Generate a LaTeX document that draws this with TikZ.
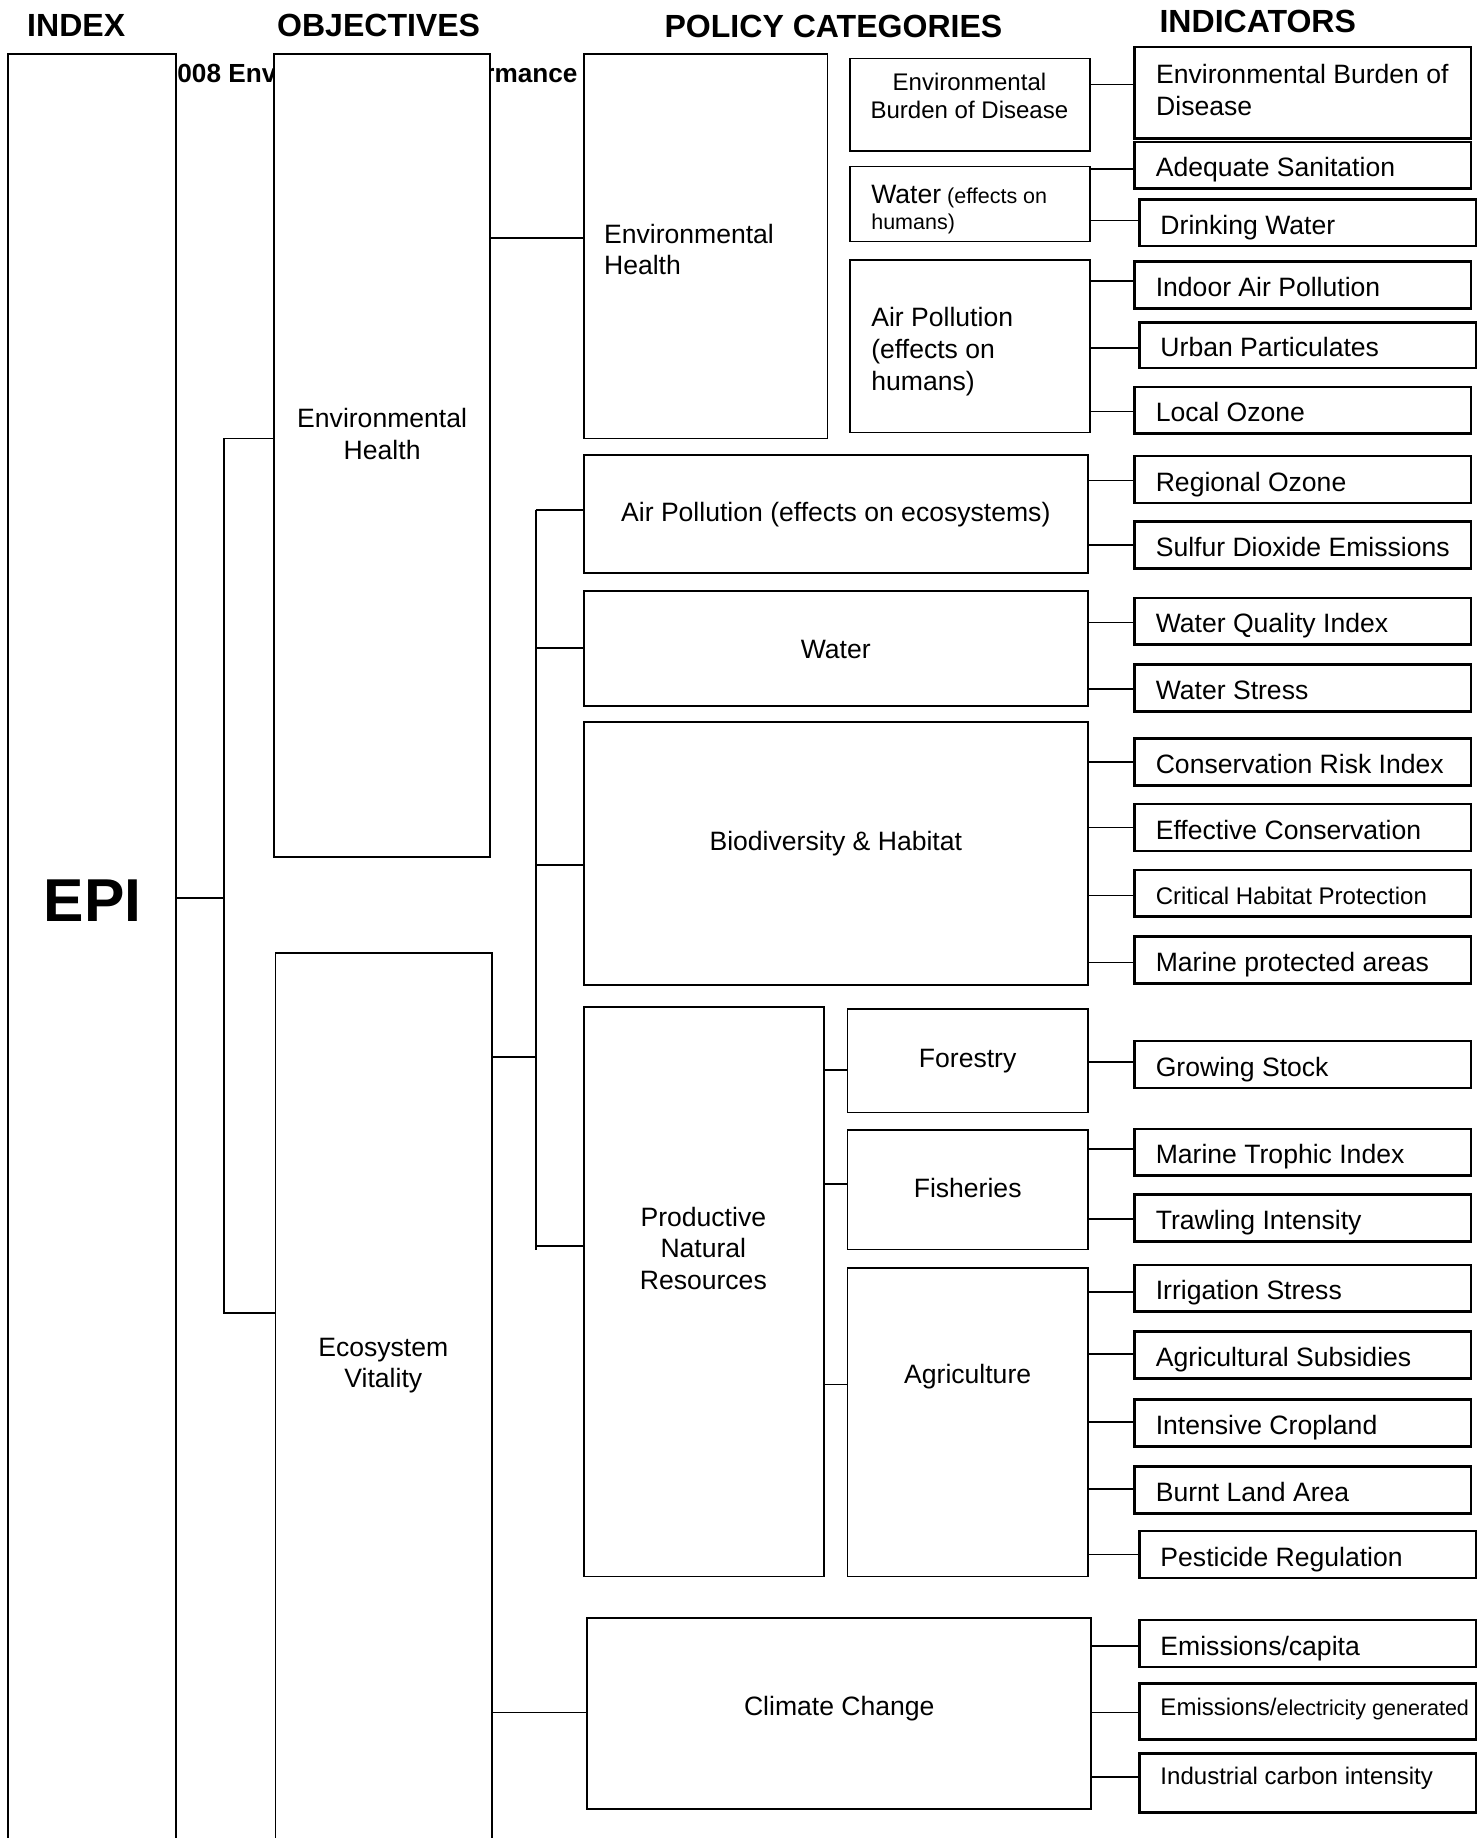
\documentclass[tikz,border=0pt]{standalone}
\usepackage{fontspec}
\setmainfont{Liberation Sans}
\newcommand\szA{\fontsize{13.6}{16.2}\selectfont}
\newcommand\szB{\fontsize{12.3}{14.5}\selectfont}
\newcommand\szC{\fontsize{11}{13.2}\selectfont}
\newcommand\szH{\fontsize{16.4}{19}\selectfont}
\newcommand\szT{\fontsize{13.4}{15.5}\selectfont}
\newcommand\szE{\fontsize{31}{36}\selectfont}
\newcommand\indl[1]{\makebox[150.6pt][l]{#1}}
\newcommand\bx[7]{\node[#6, minimum width={(#4-#2)*0.6pt}, minimum height={(#5-#3)*0.6pt}] (#1) at ({(#2+#4)/2},{(#3+#5)/2}) {#7};}
\newcommand\cn[3]{\draw[conn] (#1.east |- 0,#3) -- (#2.west |- 0,#3);}
\tikzset{
  box/.style={draw, line width=0.9pt, fill=white, inner sep=0pt, font=\szA},
  ind/.style={box, line width=1.3pt, inner xsep=10.8pt},
  ind1/.style={ind, text height=12pt, text depth=#1},
  ind1/.default=0pt,
  raiseby/.style={text height=12pt, text depth=#1},
  raiseby/.default=0pt,
  txt/.style={font=\szA, align=center, inner sep=0pt},
  ltxt/.style={font=\szA, align=left, inner sep=0pt, anchor=west},
  hdr/.style={font=\bfseries\szH, inner sep=0pt},
  conn/.style={line width=0.85pt},
}
\begin{document}
\begin{tikzpicture}[x=0.6pt, y=-0.6pt]
\useasboundingbox (0,0) rectangle (1265,1568);
\clip (0,0) rectangle (1265,1568);

% partly hidden title
\node[font=\bfseries\szT, inner sep=0pt, anchor=east] (title) at (493,62) {2008 Environmental Performance};

% headers
\node[hdr] (hindex) at (65,22) {INDEX};
\node[hdr] (hobj) at (323,22) {OBJECTIVES};
\node[hdr] (hpol) at (711,23) {POLICY CATEGORIES};
\node[hdr] (hind) at (1073,18) {INDICATORS};

% index
\bx{epi}{7}{46}{150}{1600}{box}{}
\node[font=\bfseries\szE, inner sep=0pt] (epit) at (79,768) {EPI};

% objectives
\bx{obja}{234}{46}{418}{731}{box}{}
\node[txt] (objat) at (326,370) {Environmental\\Health};
\bx{objb}{235}{813}{420}{1600}{box}{}
\node[txt] (objbt) at (327,1165) {Ecosystem\\Vitality};

% policy categories: environmental health
\bx{peh}{498}{46}{706}{374}{box}{}
\node[ltxt] (peht) at (515,213) {Environmental\\Health};
\bx{sebd}{725}{50}{930}{129}{box}{}
\node[txt, font=\szB] (sebdt) at (827,82) {Environmental\\Burden of Disease};
\bx{swat}{725}{142}{930}{206}{box}{}
\node[ltxt, font=\szC] (swatt) at (743,179) {{\szA Water} (effects on\\humans)};
\bx{sair}{725}{222}{930}{369}{box}{}
\node[ltxt] (sairt) at (743,300) {Air Pollution\\(effects on\\humans)};

% policy categories: ecosystem vitality
\bx{pape}{498}{388}{928}{489}{box, raiseby=4.8pt}{Air Pollution (effects on ecosystems)}
\bx{pwat}{498}{504}{928}{602}{box, raiseby=1.8pt}{Water}
\bx{pbio}{498}{616}{928}{840}{box, raiseby=15pt}{Biodiversity \& Habitat}
\bx{pnr}{498}{859}{703}{1345}{box}{}
\node[txt] (pnrt) at (600,1065) {Productive\\Natural\\Resources};
\bx{pfor}{723}{861}{928}{949}{box, raiseby=5.4pt}{Forestry}
\bx{pfis}{723}{964}{928}{1066}{box, raiseby=4.2pt}{Fisheries}
\bx{pagr}{723}{1082}{928}{1345}{box, raiseby=51.6pt}{Agriculture}
\bx{pcc}{501}{1380}{931}{1543}{box, raiseby=9.6pt}{Climate Change}

% indicators
\bx{iebd}{968}{40}{1255}{118}{ind}{}
\node[ltxt] (iebdt) at (986,77) {Environmental Burden of\\Disease};
\bx{ias}{968}{121}{1255}{161}{ind1}{\indl{Adequate Sanitation}}
\bx{idw}{972}{170}{1259}{210}{ind1}{\indl{Drinking Water}}
\bx{iiap}{968}{223}{1255}{263}{ind1}{\indl{Indoor Air Pollution}}
\bx{iup}{972}{275}{1259}{314}{ind1}{\indl{Urban Particulates}}
\bx{ilo}{968}{330}{1255}{370}{ind1}{\indl{Local Ozone}}
\bx{iro}{968}{389}{1255}{429}{ind1}{\indl{Regional Ozone}}
\bx{iso}{968}{445}{1255}{485}{ind1}{\indl{Sulfur Dioxide Emissions}}
\bx{iwq}{968}{510}{1255}{550}{ind1}{\indl{Water Quality Index}}
\bx{iws}{968}{567}{1255}{607}{ind1}{\indl{Water Stress}}
\bx{icr}{968}{630}{1255}{670}{ind1}{\indl{Conservation Risk Index}}
\bx{iec}{968}{686}{1255}{726}{ind1}{\indl{Effective Conservation}}
\bx{ich}{968}{742}{1255}{782}{ind1, font=\szB}{\indl{Critical Habitat Protection}}
\bx{imp}{968}{799}{1255}{839}{ind1}{\indl{Marine protected areas}}
\bx{igs}{968}{888}{1255}{928}{ind1}{\indl{Growing Stock}}
\bx{imt}{968}{963}{1255}{1003}{ind1}{\indl{Marine Trophic Index}}
\bx{iti}{968}{1019}{1255}{1059}{ind1}{\indl{Trawling Intensity}}
\bx{iis}{968}{1079}{1255}{1119}{ind1}{\indl{Irrigation Stress}}
\bx{iasub}{968}{1136}{1255}{1176}{ind1}{\indl{Agricultural Subsidies}}
\bx{iic}{968}{1194}{1255}{1234}{ind1}{\indl{Intensive Cropland}}
\bx{ibl}{968}{1251}{1255}{1291}{ind1}{\indl{Burnt Land Area}}
\bx{ipr}{972}{1306}{1259}{1346}{ind1}{\indl{Pesticide Regulation}}
\bx{iem1}{972}{1382}{1259}{1422}{ind1}{\indl{Emissions/capita}}
\bx{iem2}{972}{1436}{1259}{1484}{ind1=7.8pt, font=\szB}{\indl{Emissions/{\szC electricity generated}}}
\bx{iict}{972}{1496}{1259}{1546}{ind1=10.2pt, font=\szB}{\indl{Industrial carbon intensity}}

% connectors: index to objectives
\coordinate (ba) at (191,374);
\coordinate (bb) at (191,1120);
\coordinate (bm) at (191,766);
\draw[conn] (epi.east |- bm) -- (bm);
\draw[conn] (ba -| obja.west) -- (ba) -- (bb) -- (bb -| objb.west);

% objectives to policy categories
\cn{obja}{peh}{203}
\coordinate (bc) at (457,435);
\coordinate (bd) at (457,1066);
\coordinate (bn) at (457,902);
\draw[conn] (objb.east |- bn) -- (bn);
\draw[conn] (bc) -- (bd);
\draw[conn] (bc) -- (bc -| pape.west);
\draw[conn] (bc |- 0,553) -- (pwat.west |- 0,553);
\draw[conn] (bc |- 0,738) -- (pbio.west |- 0,738);
\draw[conn] (bc |- 0,1063) -- (pnr.west |- 0,1063);
\cn{objb}{pcc}{1461}
\cn{pnr}{pfor}{913}
\cn{pnr}{pfis}{1010}
\cn{pnr}{pagr}{1181}

% policy categories to indicators
\cn{sebd}{iebd}{72}
\cn{swat}{ias}{144}
\cn{swat}{idw}{188}
\cn{sair}{iiap}{240}
\cn{sair}{iup}{297}
\cn{sair}{ilo}{351}
\cn{pape}{iro}{410}
\cn{pape}{iso}{465}
\cn{pwat}{iwq}{531}
\cn{pwat}{iws}{588}
\cn{pbio}{icr}{650}
\cn{pbio}{iec}{706}
\cn{pbio}{ich}{764}
\cn{pbio}{imp}{821}
\cn{pfor}{igs}{906}
\cn{pfis}{imt}{980}
\cn{pfis}{iti}{1040}
\cn{pagr}{iis}{1102}
\cn{pagr}{iasub}{1155}
\cn{pagr}{iic}{1213}
\cn{pagr}{ibl}{1270}
\cn{pagr}{ipr}{1326}
\cn{pcc}{iem1}{1404}
\cn{pcc}{iem2}{1461}
\cn{pcc}{iict}{1516}
\end{tikzpicture}
\end{document}
